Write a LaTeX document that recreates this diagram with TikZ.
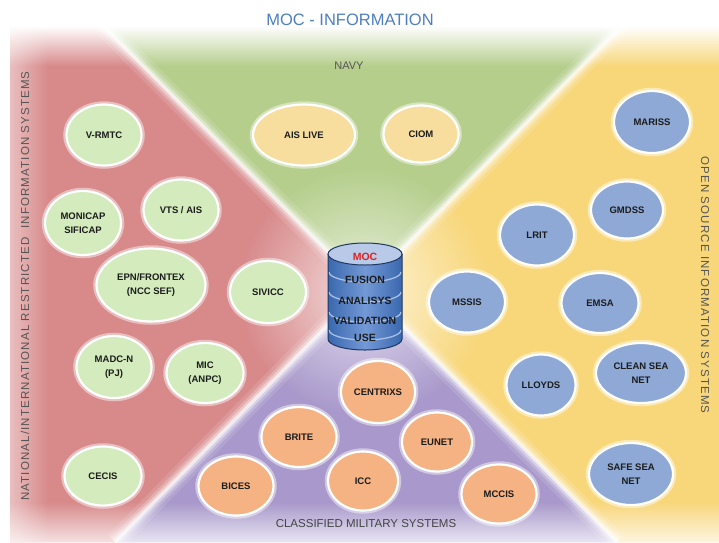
\documentclass[tikz,border=0pt]{standalone}
\usepackage{fontspec}
\setmainfont{Liberation Sans}
\usetikzlibrary{shapes.geometric,fadings}

\definecolor{regred}{HTML}{D88A8B}
\definecolor{reggreen}{HTML}{B5CE8C}
\definecolor{regyellow}{HTML}{F8D77B}
\definecolor{regpurple}{HTML}{A898CB}
\definecolor{ngreen}{HTML}{D3EBBD}
\definecolor{nyellow}{HTML}{F7DE9E}
\definecolor{nblue}{HTML}{8EA9D5}
\definecolor{norange}{HTML}{F5B282}
\definecolor{titleblue}{HTML}{4E7EC3}
\definecolor{labelgray}{HTML}{555555}
\definecolor{nodetext}{HTML}{1C1C1C}
\definecolor{cylA}{HTML}{3A68AE}
\definecolor{cylB}{HTML}{7399D6}
\definecolor{cylTop}{HTML}{B9CAE8}
\definecolor{cylBand}{HTML}{A8C0E8}
\definecolor{cylLine}{HTML}{1E3763}
\definecolor{mocred}{HTML}{E02020}

\colorlet{nodec}{ngreen}
\pgfdeclareradialshading[nodec]{nodeglow}{\pgfpoint{0bp}{0bp}}{color(0bp)=(nodec); color(30bp)=(nodec); color(50bp)=(nodec!45!white)}

\tikzfading[name=fadedown, top color=transparent!0, bottom color=transparent!100]
\tikzfading[name=fadeup, top color=transparent!100, bottom color=transparent!0]
\tikzfading[name=faderight, left color=transparent!0, right color=transparent!100]
\tikzfading[name=glowfade, inner color=transparent!0, outer color=transparent!100]

\begin{document}
\begin{tikzpicture}[x=1pt,y=-1pt,
  sysnode/.style={ellipse, inner sep=0pt, align=center, text=nodetext,
    font=\fontsize{9.5}{13.5}\selectfont\bfseries,
    draw=white, line width=2.2pt, shade, shading=nodeglow,
    preaction={draw=white, draw opacity=0.45, line width=6.5pt}},
  gnode/.style={sysnode, /utils/exec={\colorlet{nodec}{ngreen}}},
  ynode/.style={sysnode, /utils/exec={\colorlet{nodec}{nyellow}}},
  bnode/.style={sysnode, /utils/exec={\colorlet{nodec}{nblue}}},
  onode/.style={sysnode, /utils/exec={\colorlet{nodec}{norange}}},
  sz/.style 2 args={minimum width=#1pt-3pt, minimum height=#2pt-3pt},
  sidelabel/.style={text=labelgray, inner sep=0pt,
    font=\fontsize{11.5}{12}\selectfont\addfontfeature{LetterSpace=10}},
  cyltext/.style={inner sep=0pt, text=nodetext, font=\fontsize{10.5}{12}\selectfont\bfseries}
]
\useasboundingbox (0,0) rectangle (719,542);
\fill[white] (0,0) rectangle (719,542);

% regions
\fill[regred] (10,25) -- (102,25) -- (364,288) -- (115,542) -- (10,542) -- cycle;
\fill[reggreen] (102,25) -- (622,25) -- (364,288) -- cycle;
\fill[regyellow] (622,25) -- (719,25) -- (719,542) -- (617,542) -- (364,288) -- cycle;
\fill[regpurple] (364,288) -- (617,542) -- (115,542) -- cycle;

% soft white separators
\foreach \w/\o in {20/0.12,13/0.2,8/0.35,3.5/0.6} {
  \draw[white, line width=\w pt, opacity=\o] (102,25) -- (617,542);
  \draw[white, line width=\w pt, opacity=\o] (622,25) -- (115,542);
}
% centre glow
\fill[white, path fading=glowfade, fill opacity=0.7] (364,292) circle (125);

% outer fades
\fill[white] (0,0) rectangle (719,27);
\fill[white, path fading=fadedown] (0,26) rectangle (719,66);
\fill[white] (0,0) rectangle (10,542);
\fill[white, path fading=faderight, fill opacity=0.45] (10,0) rectangle (48,542);
\fill[white, path fading=fadeup, fill opacity=0.75] (0,502) rectangle (719,542);

% titles and side labels
\node[font=\fontsize{16.5}{18}\selectfont, text=titleblue] (title) at (350,20) {MOC - INFORMATION};
\node[font=\fontsize{11}{12}\selectfont, text=labelgray] (navy) at (349,66) {NAVY};
\node[font=\fontsize{11.5}{12}\selectfont, text=labelgray!80!black] (classified) at (366,524) {CLASSIFIED MILITARY SYSTEMS};
\node[sidelabel, rotate=90] (national) at (25,286) {NATIONAL/INTERNATIONAL RESTRICTED\ \ INFORMATION SYSTEMS};
\node[sidelabel, rotate=-90] (opensource) at (705,285) {OPEN SOURCE INFORMATION SYSTEMS};

% navy
\node[ynode, sz={105}{64}] (aislive) at (304,135) {AIS LIVE};
\node[ynode, sz={78}{60}] (ciom) at (421,134) {CIOM};

% national / international
\node[gnode, sz={78}{64}] (vrmtc) at (104,135) {V-RMTC};
\node[gnode, sz={79}{67}] (monicap) at (83,223) {MONICAP\\SIFICAP};
\node[gnode, sz={78}{64}] (vts) at (181,210) {VTS / AIS};
\node[gnode, sz={112}{76}] (epn) at (151,285) {EPN/FRONTEX\\(NCC SEF)};
\node[gnode, sz={79}{65}] (sivicc) at (268,292) {SIVICC};
\node[gnode, sz={78}{65}] (madc) at (114,367) {MADC-N\\(PJ)};
\node[gnode, sz={80}{63}] (mic) at (205,373) {MIC\\(ANPC)};
\node[gnode, sz={80}{62}] (cecis) at (103,476) {CECIS};

% open source
\node[bnode, sz={79}{65}] (mariss) at (652,122) {MARISS};
\node[bnode, sz={75}{60}] (gmdss) at (627,210) {GMDSS};
\node[bnode, sz={77}{64}] (lrit) at (537,235) {LRIT};
\node[bnode, sz={79}{64}] (mssis) at (467,302) {MSSIS};
\node[bnode, sz={80}{63}] (emsa) at (600,303) {EMSA};
\node[bnode, sz={72}{64}] (lloyds) at (541,385) {LLOYDS};
\node[bnode, sz={93}{63}] (cleansea) at (641,373) {CLEAN SEA\\NET};
\node[bnode, sz={87}{65}] (safesea) at (631,474) {SAFE SEA\\NET};

% classified military
\node[onode, sz={77}{65}] (centrixs) at (378,392) {CENTRIXS};
\node[onode, sz={78}{63}] (brite) at (299,437) {BRITE};
\node[onode, sz={73}{62}] (eunet) at (437,442) {EUNET};
\node[onode, sz={73}{62}] (icc) at (363,481) {ICC};
\node[onode, sz={78}{62}] (bices) at (236,486) {BICES};
\node[onode, sz={78}{62}] (mccis) at (499,494) {MCCIS};

% MOC cylinder
\shade[left color=cylA, right color=cylA, middle color=cylB]
  (328,254) -- (328,339) arc[start angle=180, end angle=0, x radius=37, y radius=11] -- (402,254) -- cycle;
\foreach \yy in {272,292,312,330} {
  \draw[cylBand, line width=1.3pt] (329,\yy) arc[start angle=180, end angle=0, x radius=36, y radius=10];
}
\draw[cylLine, line width=1pt]
  (328,254) -- (328,339) arc[start angle=180, end angle=0, x radius=37, y radius=11] -- (402,254);
\filldraw[fill=cylTop, draw=cylLine, line width=1pt] (365,254) ellipse [x radius=37, y radius=11];
\node[cyltext, text=mocred] (moc) at (365,257) {MOC};
\node[cyltext] (fusion) at (365,280) {FUSION};
\node[cyltext] (analysis) at (365,301) {ANALISYS};
\node[cyltext] (validation) at (365,321) {VALIDATION};
\node[cyltext] (use) at (365,338) {USE};
\end{tikzpicture}
\end{document}
